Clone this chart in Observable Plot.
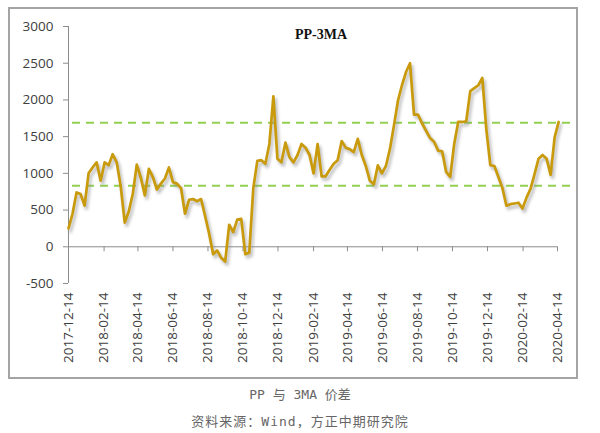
<!DOCTYPE html>
<html><head><meta charset="utf-8">
<script src="https://cdn.jsdelivr.net/npm/d3@7"></script>
<script src="https://cdn.jsdelivr.net/npm/@observablehq/plot@0.6"></script>
<style>
body{margin:0;background:#fff;}
#wrap{position:relative;width:600px;height:433px;overflow:hidden;}
#chart{position:absolute;left:0;top:0;}
#border{position:absolute;left:8px;top:7px;width:566px;height:368px;border:2px solid #a4a4a4;pointer-events:none;}
.cap{position:absolute;left:0;width:600px;text-align:center;color:#666;font-family:"DejaVu Sans Mono","Noto Sans CJK SC",monospace;font-size:13px;}
</style>
</head><body>
<div id="wrap">
  <div id="chart"></div>
  <div id="border"></div>
  <div class="cap" id="cap1" style="top:384px;letter-spacing:0px;"></div>
  <div class="cap" id="cap2" style="top:411px;letter-spacing:1px;"></div>
</div>
<script>
// ---- data ----
const chartTitle = "PP-3MA";
const captionText = "PP 与 3MA 价差";
const sourceText = "资料来源：Wind，方正中期研究院";
const startDate = "2017-12-14";
// weekly PP-3MA spread
const weeklySpread = [
  250, 450, 740, 720, 560, 1000, 1080, 1150, 900, 1150,
  1110, 1260, 1150, 820, 330, 480, 720, 1120, 940, 700,
  1060, 950, 780, 860, 930, 1080, 880, 860, 800, 450,
  640, 650, 620, 650, 420, 180, -100, -50, -150, -200,
  300, 200, 370, 380, -100, -80, 800, 1170, 1180, 1130,
  1400, 2050, 1200, 1150, 1420, 1220, 1150, 1250, 1400, 1350,
  1250, 1000, 1400, 960, 960, 1050, 1130, 1180, 1440, 1350,
  1330, 1290, 1470, 1250, 1100, 900, 850, 1110, 1000, 1100,
  1330, 1650, 1990, 2200, 2380, 2500, 1800, 1800, 1680, 1580,
  1480, 1430, 1310, 1300, 1020, 950, 1400, 1700, 1700, 1710,
  2120, 2160, 2200, 2300, 1600, 1110, 1100, 950, 800, 560,
  580, 590, 600, 520, 670, 790, 990, 1200, 1250, 1200,
  980, 1490, 1700
];
const upperBand = 1690;
const lowerBand = 830;
const tickDates = [
  "2017-12-14", "2018-02-14", "2018-04-14", "2018-06-14", "2018-08-14",
  "2018-10-14", "2018-12-14", "2019-02-14", "2019-04-14", "2019-06-14",
  "2019-08-14", "2019-10-14", "2019-12-14", "2020-02-14", "2020-04-14"
];
const yTicks = [-500, 0, 500, 1000, 1500, 2000, 2500, 3000];

// ---- build ----
const t0 = new Date(startDate);
const data = weeklySpread.map((v, i) => ({date: d3.utcDay.offset(t0, 7 * i), value: v}));
const ticks = tickDates.map(d => new Date(d));
const xStart = ticks[0], xEnd = ticks[ticks.length - 1];

const lineColor = "#C99A0C";
const axisColor = "#8c8c8c";

const chart = Plot.plot({
  width: 600,
  height: 385,
  marginLeft: 68,
  marginRight: 27,
  marginTop: 26,
  marginBottom: 102,
  style: {fontFamily: "'Open Sans', sans-serif", fontSize: "13.5px", color: "#404040", background: "transparent"},
  x: {type: "utc", domain: [xStart, xEnd], range: [68, 557], ticks: ticks,
      tickFormat: d3.utcFormat("%Y-%m-%d"), tickRotate: -90, tickSize: 0, tickPadding: 9, label: null},
  y: {domain: [-500, 3000], ticks: yTicks, tickSize: 5, tickPadding: 10, label: null,
      tickFormat: d => String(d)},
  marks: [
    Plot.ruleY([upperBand, lowerBand], {stroke: "#92D050", strokeWidth: 2, strokeDasharray: "8,6", strokeDashoffset: -4}),
    Plot.ruleX([xStart], {y1: -500, y2: 3000, stroke: axisColor}),
    Plot.ruleY([0], {x1: xStart, x2: xEnd, stroke: axisColor}),
    Plot.ruleX(ticks, {y1: 0, y2: 0, insetBottom: -5, stroke: axisColor}),
    Plot.line(data, {x: "date", y: "value", stroke: "#8a8a8a", strokeWidth: 3, strokeOpacity: 0.55, dx: 2, dy: 3}),
    Plot.line(data, {x: "date", y: "value", stroke: lineColor, strokeWidth: 2.7}),
    Plot.text([chartTitle], {frameAnchor: "top", dy: 3, fontFamily: "'Liberation Serif', serif", fontWeight: "bold", fontSize: 14, fill: "#111"})
  ]
});

// soft shadow under the line
const ns = "http://www.w3.org/2000/svg";
const defs = document.createElementNS(ns, "defs");
defs.innerHTML = '<filter id="blurShadow" x="-5%" y="-5%" width="110%" height="110%"><feGaussianBlur stdDeviation="1.5"/></filter>';
chart.insertBefore(defs, chart.firstChild);
const lines = chart.querySelectorAll('g[aria-label="line"]');
if (lines.length) lines[0].setAttribute("filter", "url(#blurShadow)");
chart.querySelectorAll('g[aria-label="y-axis"] path, g[aria-label="y-axis tick"] path, g[aria-label="y-axis tick"]').forEach(p => p.setAttribute("stroke", axisColor));

document.getElementById("chart").appendChild(chart);
document.getElementById("cap1").textContent = captionText;
document.getElementById("cap2").textContent = sourceText;
</script>
</body></html>
